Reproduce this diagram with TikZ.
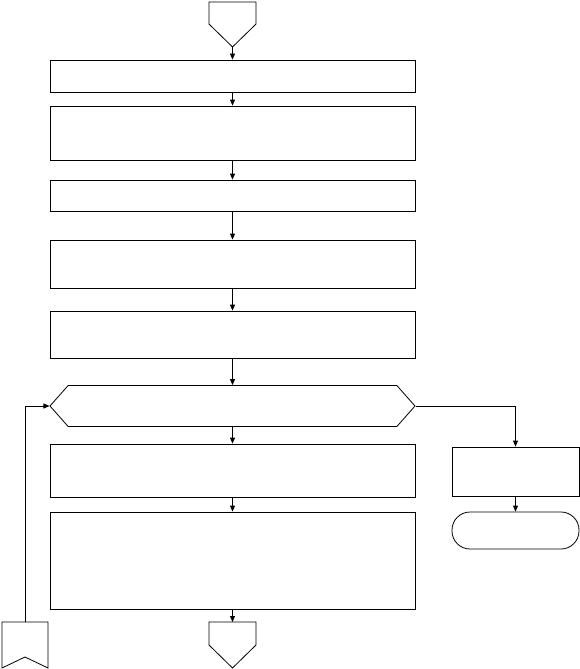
\documentclass[tikz,border=0pt]{standalone}
\usetikzlibrary{arrows.meta,shapes.symbols}

\tikzset{
  proc/.style={draw, rectangle, minimum width=365pt, inner sep=0pt},
  side/.style={draw, rectangle, minimum width=127pt, minimum height=49pt, inner sep=0pt},
  term/.style={draw, rectangle, rounded corners=18pt, minimum width=127pt, minimum height=37pt, inner sep=0pt},
  loopbox/.style={draw, signal, signal to=west and east, signal pointer angle=97, minimum width=365pt, minimum height=41pt, inner sep=0pt}
}

\begin{document}
\begin{tikzpicture}[x=1pt, y=-1pt, line width=0.8pt, >={Triangle[length=6pt,width=5pt]}]
\useasboundingbox (0,0) rectangle (580,669);
% off-page connectors
\draw (209,2) -- (256,2) -- (256,24) -- (232.5,47) -- (209,24) -- cycle;
\coordinate (start) at (232.5,47);
\draw (209,622) -- (256,622) -- (256,645) -- (232.5,668) -- (209,645) -- cycle;
\coordinate (next) at (232.5,622);
\draw (2,622) -- (48,622) -- (48,668) -- (25,657) -- (2,668) -- cycle;
\coordinate (back) at (25,622);
% main column
\node[proc, minimum height=32pt] (s1) at (232.5,76) {};
\node[proc, minimum height=54pt] (s2) at (232.5,133) {};
\node[proc, minimum height=31pt] (s3) at (232.5,195.5) {};
\node[proc, minimum height=48pt] (s4) at (232.5,264) {};
\node[proc, minimum height=47pt] (s5) at (232.5,334.5) {};
\node[loopbox] (loop) at (232.5,406) {};
\node[proc, minimum height=53pt] (s6) at (232.5,470.5) {};
\node[proc, minimum height=97pt] (s7) at (232.5,560.5) {};
% side branch
\node[side] (done) at (515.5,471.5) {};
\node[term] (finish) at (515.5,530.5) {};

\draw[->] (start) -- (s1.north);
\draw[->] (s1) -- (s2);
\draw[->] (s2) -- (s3);
\draw[->] (s3) -- (s4);
\draw[->] (s4) -- (s5);
\draw[->] (s5.south) -- (loop.north);
\draw[->] (loop.south) -- (s6.north);
\draw[->] (s6) -- (s7);
\draw[->] (s7.south) -- (next);
\draw[->] (loop.east) -| (done.north);
\draw[->] (done) -- (finish);
\draw[->] (back) |- (loop.west);
\end{tikzpicture}
\end{document}
